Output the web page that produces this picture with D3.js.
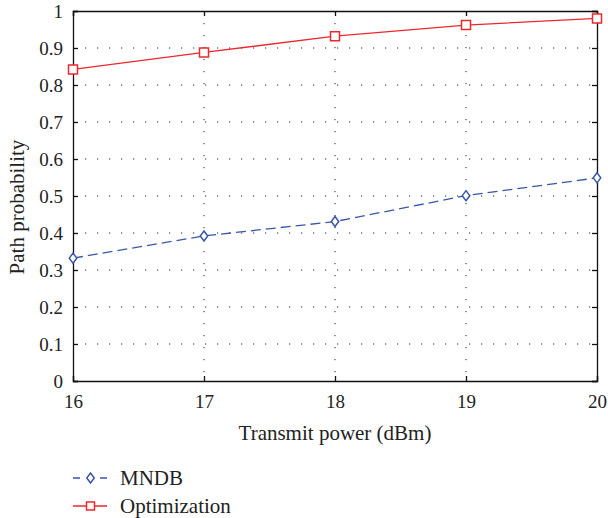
<!DOCTYPE html>
<html>
<head>
<meta charset="utf-8">
<script src="https://cdnjs.cloudflare.com/ajax/libs/d3/7.8.5/d3.min.js"></script>
<style>
  body { margin: 0; background: #fff; }
</style>
</head>
<body>
<div class="chart"></div>
<script>
(function(){
    var powers = [16, 17, 18, 19, 20];
    var mndb = [0.332, 0.392, 0.431, 0.501, 0.549];
    var optimization = [0.842, 0.888, 0.932, 0.962, 0.980];
    var yTicks = [0, 0.1, 0.2, 0.3, 0.4, 0.5, 0.6, 0.7, 0.8, 0.9, 1];
    var seriesNames = ["MNDB", "Optimization"];

    var FONT = "'Liberation Serif'";
    var margin = {top: 11, right: 11, bottom: 137, left: 73};
    var containerWidth = 608, containerHeight = 518;
    var width = containerWidth - margin.left - margin.right;
    var height = containerHeight - margin.top - margin.bottom;

    var svg = d3.select(".chart").append("svg")
        .attr("width", containerWidth)
        .attr("height", containerHeight);

    var g = svg.append("g")
        .attr("transform", "translate(" + margin.left + "," + margin.top + ")");

    var x = d3.scaleLinear().domain([16, 20]).range([0, width]);
    var y = d3.scaleLinear().domain([0, 1]).range([height, 0]);

    // dotted grid
    g.selectAll(".vgrid").data(powers.slice(1, -1)).enter()
        .append("line")
        .attr("x1", function(d){ return x(d); })
        .attr("x2", function(d){ return x(d); })
        .attr("y1", 0).attr("y2", height)
        .attr("stroke", "#222").attr("stroke-width", 1)
        .attr("stroke-dasharray", "1.2,10.8");
    g.selectAll(".hgrid").data(yTicks.slice(1, -1)).enter()
        .append("line")
        .attr("x1", 0).attr("x2", width)
        .attr("y1", function(d){ return y(d); })
        .attr("y2", function(d){ return y(d); })
        .attr("stroke", "#222").attr("stroke-width", 1)
        .attr("stroke-dasharray", "1.2,10.8");

    // axes (ticks inside, mirrored on top and right)
    var fmt = function(d){ return d === 0 || d === 1 ? String(d) : d3.format(".1f")(d); };
    var xAxis = g.append("g")
        .attr("transform", "translate(0," + height + ")")
        .call(d3.axisBottom(x).tickValues(powers).tickSize(-5).tickPadding(14).tickFormat(d3.format("d")));
    var yAxis = g.append("g")
        .call(d3.axisLeft(y).tickValues(yTicks).tickSize(-5).tickPadding(10).tickFormat(fmt));
    g.append("g")
        .call(d3.axisTop(x).tickValues(powers).tickSize(-5).tickFormat(""));
    g.append("g")
        .attr("transform", "translate(" + width + ",0)")
        .call(d3.axisRight(y).tickValues(yTicks).tickSize(-5).tickFormat(""));
    g.selectAll(".domain").attr("stroke", "#111").attr("stroke-width", 1.3);
    g.selectAll(".tick line").attr("stroke", "#111").attr("stroke-width", 1.3);
    xAxis.attr("font-family", FONT).attr("font-size", 19);
    yAxis.attr("font-family", FONT).attr("font-size", 19);
    g.selectAll(".tick text").attr("fill", "#222");
    yAxis.selectAll(".tick text").attr("dy", "0.35em");

    // axis titles
    svg.append("text")
        .attr("x", margin.left + width / 2)
        .attr("y", 440)
        .attr("text-anchor", "middle")
        .attr("font-family", FONT)
        .attr("font-size", 21)
        .attr("fill", "#222")
        .text("Transmit power (dBm)");
    svg.append("text")
        .attr("transform", "translate(24,207) rotate(-90)")
        .attr("text-anchor", "middle")
        .attr("font-family", FONT)
        .attr("font-size", 21)
        .attr("fill", "#222")
        .text("Path probability");

    var colors = ["#3a56a8", "#ec282e"];
    var dashes = ["10,5", null];
    var line = d3.line()
        .x(function(d, i){ return x(powers[i]); })
        .y(function(d){ return y(d); });

    var diamond = function(cx, cy, r){
        return "M" + cx + "," + (cy - r) + "L" + (cx + r * 0.75) + "," + cy +
               "L" + cx + "," + (cy + r) + "L" + (cx - r * 0.75) + "," + cy + "Z";
    };
    var square = function(cx, cy, r){
        return "M" + (cx - r) + "," + (cy - r) + "h" + (2 * r) + "v" + (2 * r) + "h" + (-2 * r) + "Z";
    };
    var markers = [diamond, square];
    var markerSize = [5, 4.5];

    [mndb, optimization].forEach(function(vals, s){
        g.append("path")
            .datum(vals)
            .attr("d", line)
            .attr("fill", "none")
            .attr("stroke", colors[s])
            .attr("stroke-width", 1.3)
            .attr("stroke-dasharray", dashes[s]);
        g.selectAll(".m" + s).data(vals).enter()
            .append("path")
            .attr("d", function(d, i){ return markers[s](x(powers[i]), y(d), markerSize[s]); })
            .attr("fill", "#fff")
            .attr("stroke", colors[s])
            .attr("stroke-width", 1.5);
    });

    // legend
    var legend = svg.append("g").attr("transform", "translate(73,478)");
    seriesNames.forEach(function(name, s){
        var ly = s * 28;
        legend.append("line")
            .attr("x1", 0).attr("x2", 34)
            .attr("y1", ly).attr("y2", ly)
            .attr("stroke", colors[s]).attr("stroke-width", 1.3)
            .attr("stroke-dasharray", s === 0 ? "7,20,7" : null);
        legend.append("path")
            .attr("d", markers[s](17.5, ly, s === 0 ? 5 : 4))
            .attr("fill", "#fff")
            .attr("stroke", colors[s]).attr("stroke-width", 1.5);
        legend.append("text")
            .attr("x", 47).attr("y", ly)
            .attr("dy", "0.35em")
            .attr("font-family", FONT)
            .attr("font-size", 21)
            .attr("fill", "#222")
            .text(name);
    });
}());
</script>
</body>
</html>
